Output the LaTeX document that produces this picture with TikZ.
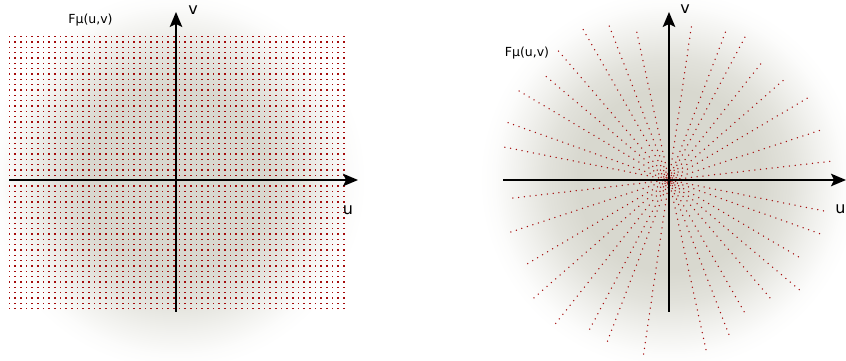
\documentclass[tikz,border=0pt]{standalone}
\usepackage{fontspec}
\setmainfont{DejaVu Sans}
\usetikzlibrary{arrows.meta}

\definecolor{dotred}{RGB}{165,12,12}
\definecolor{blob}{RGB}{216,216,207}
\pgfdeclareradialshading{gaussblob}{\pgfpoint{0bp}{0bp}}{%
  color(0bp)=(blob); color(12bp)=(blob); color(16bp)=(blob!75!white);
  color(20bp)=(blob!35!white); color(23bp)=(blob!8!white); color(25bp)=(white);
  color(50bp)=(white)}

\begin{document}
\begin{tikzpicture}[x=1pt, y=1pt,
  dot/.style={fill=dotred},
  axis/.style={line width=2pt, -{Stealth[length=15pt, width=12.5pt, inset=3pt]}},
  lbl/.style={font=\fontsize{16}{16}\selectfont, inner sep=0pt},
  flbl/.style={font=\fontsize{12.5}{12.5}\selectfont, inner sep=0pt}]

  \useasboundingbox (0,0) rectangle (846,361);

  % smooth spectrum behind both samplings
  \shade[shading=gaussblob] (176,181) circle (190);
  \shade[shading=gaussblob] (669,181) circle (190);

  % cartesian sampling
  \foreach \i in {0,...,59}
    \foreach \j in {0,...,51}
      \fill[dot] ({8.8+\i*5.667},{323.6-\j*5.333}) rectangle +(1.4,1.4);

  % radial sampling
  \begin{scope}[shift={(669,181)}]
    \foreach \a/\rp/\rm [count=\c] in {6.6/165/163, 18.2/164/170, 30.6/161/170, 41.1/152/181,
        51.7/151/183, 62/165/169, 69.1/159/175, 81.7/157/176,
        102.3/155/178, 111.2/168/166, 119.7/176/157, 130.6/174/159,
        139.9/162/172, 149.3/178/156, 160.4/171/163, 168.7/171/162} {
      \pgfmathsetmacro\ph{mod(\c*2.3,5.8)-2.9}
      \pgfmathtruncatemacro\np{(\rp-\ph)/5.8}
      \pgfmathtruncatemacro\nm{-(\rm+\ph)/5.8}
      \foreach \k in {\nm,...,\np}
        \fill[dot] (\a:{\k*5.8+\ph}) circle (0.75);
    }
  \end{scope}

  % axes
  \coordinate (lx0) at (9,181);
  \coordinate (lx1) at (358,181);
  \coordinate (ly0) at (176,49);
  \coordinate (ly1) at (176,349);
  \coordinate (rx0) at (503,181);
  \coordinate (rx1) at (846,181);
  \coordinate (ry0) at (669,49);
  \coordinate (ry1) at (669,349);
  \draw[axis] (lx0) -- (lx1);
  \draw[axis] (ly0) -- (ly1);
  \draw[axis] (rx0) -- (rx1);
  \draw[axis] (ry0) -- (ry1);

  % labels
  \node[lbl] (lv) at (193,351) {v};
  \node[lbl] (lu) at (348,151) {u};
  \node[lbl] (rv) at (685,352) {v};
  \node[lbl] (ru) at (840.5,152) {u};
  \node[flbl] (lf) at (90.5,341) {Fμ(u,v)};
  \node[flbl] (rf) at (527,308) {Fμ(u,v)};
\end{tikzpicture}
\end{document}
